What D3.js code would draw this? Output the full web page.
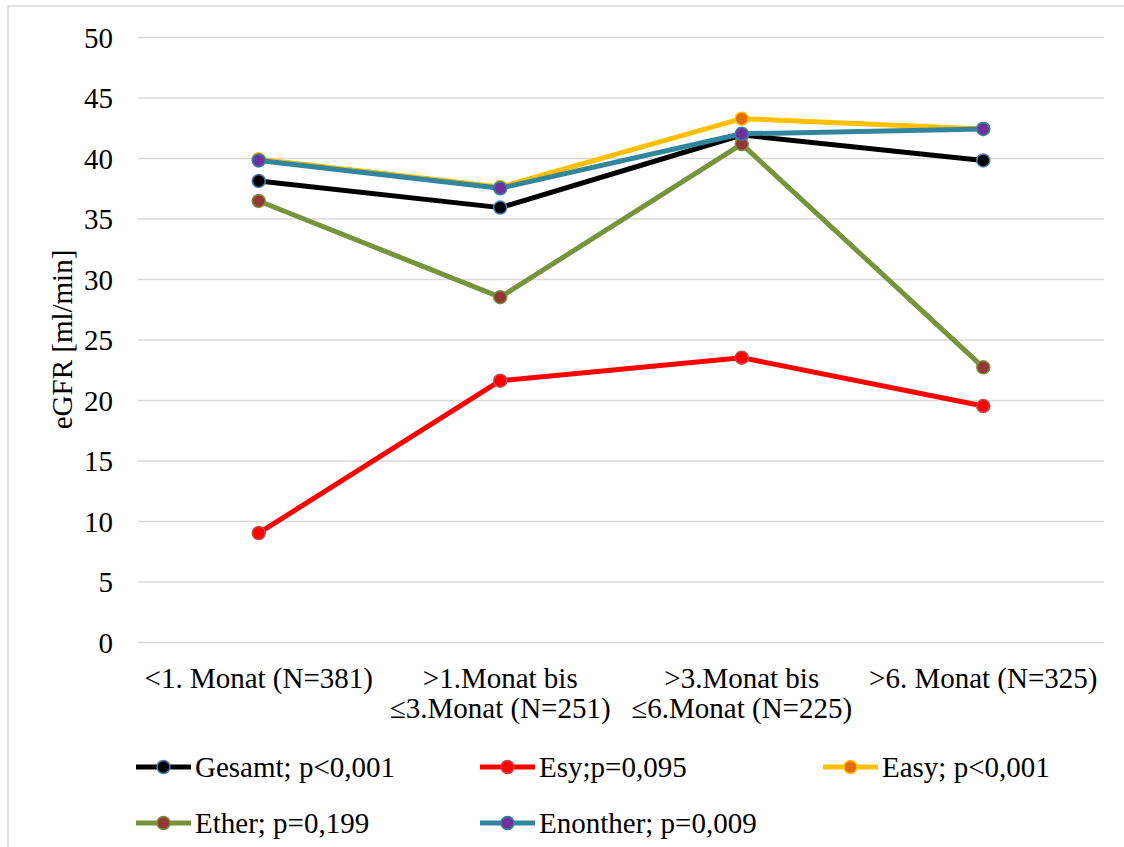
<!DOCTYPE html>
<html>
<head>
<meta charset="utf-8">
<script src="https://cdn.jsdelivr.net/npm/d3@7"></script>
<style>
  html, body { margin: 0; padding: 0; background: #fff; }
  svg text { font-family: "Liberation Serif", "Times New Roman", "DejaVu Serif", serif !important; }
</style>
</head>
<body>
<svg id="chart" width="1124" height="847"></svg>
<script>
// Categories (x axis), each split into its printed lines
const categories = [
  ["<1. Monat (N=381)"],
  [">1.Monat bis", "≤3.Monat (N=251)"],
  [">3.Monat bis", "≤6.Monat (N=225)"],
  [">6. Monat (N=325)"]
];

// eGFR means per group
const gesamt   = [38.1, 35.9, 41.9, 39.8];
const esy      = [9.0, 21.6, 23.5, 19.5];
const easy     = [39.9, 37.6, 43.25, 42.4];
const ether    = [36.45, 28.5, 41.15, 22.7];
const enonther = [39.8, 37.5, 42.0, 42.4];

const seriesNames = ["Gesamt; p<0,001", "Esy;p=0,095", "Easy; p<0,001", "Ether; p=0,199", "Enonther; p=0,009"];
const yTicks = [0, 5, 10, 15, 20, 25, 30, 35, 40, 45, 50];

const series = [
  { name: seriesNames[0], values: gesamt,   line: "#000000", fill: "#000000", ring: "#4A7EBB" },
  { name: seriesNames[1], values: esy,      line: "#FF0000", fill: "#FF0000", ring: "#C0504D" },
  { name: seriesNames[2], values: easy,     line: "#FFC000", fill: "#E36C09", ring: "#FFC000" },
  { name: seriesNames[3], values: ether,    line: "#77933C", fill: "#953735", ring: "#77933C" },
  { name: seriesNames[4], values: enonther, line: "#31859C", fill: "#7030A0", ring: "#31859C" }
];

const FONT = '"Liberation Serif", "Times New Roman", "DejaVu Serif", serif';
const svg = d3.select("#chart");
const plot = { left: 138, right: 1104, top: 37, bottom: 642 };
const fontSize = 29;

// Outer chart frame
svg.append("rect")
  .attr("x", 8).attr("y", 6)
  .attr("width", 1200).attr("height", 900)
  .attr("fill", "#fff").attr("stroke", "#D9D9D9").attr("stroke-width", 1.5);

const x = d3.scaleBand()
  .domain(d3.range(categories.length))
  .range([plot.left, plot.right])
  .padding(0);

const y = d3.scaleLinear().domain([0, 50]).range([plot.bottom, plot.top]);

// Horizontal gridlines
const grid = svg.append("g")
  .attr("transform", `translate(${plot.left},0)`)
  .call(d3.axisLeft(y).tickValues(yTicks).tickSize(-(plot.right - plot.left)).tickFormat(""));
grid.select(".domain").remove();
grid.selectAll(".tick line").attr("stroke", "#D9D9D9").attr("stroke-width", 1.5);

// Y axis labels
const yAxis = svg.append("g")
  .attr("transform", `translate(${plot.left},0)`)
  .call(d3.axisLeft(y).tickValues(yTicks).tickSize(0).tickPadding(25));
yAxis.attr("font-family", FONT);
yAxis.select(".domain").remove();
yAxis.selectAll("text")
  .style("font-family", FONT)
  .attr("font-size", fontSize)
  .attr("fill", "#000")
  .attr("dy", "0.35em");

// Y axis title
svg.append("text")
  .attr("transform", `translate(72,${(plot.top + plot.bottom) / 2}) rotate(-90)`)
  .attr("text-anchor", "middle")
  .style("font-family", FONT)
  .attr("font-size", fontSize)
  .attr("fill", "#000")
  .text("eGFR [ml/min]");

// X category labels
const xLabels = svg.append("g");
categories.forEach((lines, i) => {
  const t = xLabels.append("text")
    .attr("text-anchor", "middle")
    .style("font-family", FONT)
    .attr("font-size", fontSize)
    .attr("fill", "#000");
  lines.forEach((ln, j) => {
    t.append("tspan")
      .attr("x", x(i) + x.bandwidth() / 2)
      .attr("y", 688 + j * 30)
      .text(ln);
  });
});

// Lines and markers
const line = d3.line()
  .x((d, i) => x(i) + x.bandwidth() / 2)
  .y(d => y(d));

series.forEach(s => {
  const g = svg.append("g");
  g.append("path")
    .datum(s.values)
    .attr("d", line)
    .attr("fill", "none")
    .attr("stroke", s.line)
    .attr("stroke-width", 5)
    .attr("stroke-linejoin", "round");
  g.selectAll("circle")
    .data(s.values)
    .join("circle")
    .attr("cx", (d, i) => x(i) + x.bandwidth() / 2)
    .attr("cy", d => y(d))
    .attr("r", 6.5)
    .attr("fill", s.fill)
    .attr("stroke", s.ring)
    .attr("stroke-width", 1.5);
});

// Legend
const legendCols = [136, 480, 823];
const legendRows = [767, 823];
series.forEach((s, i) => {
  const lx = legendCols[i % 3];
  const ly = legendRows[Math.floor(i / 3)];
  const g = svg.append("g").attr("transform", `translate(${lx},${ly})`);
  g.append("line")
    .attr("x1", 0).attr("x2", 55)
    .attr("y1", 0).attr("y2", 0)
    .attr("stroke", s.line).attr("stroke-width", 5);
  g.append("circle")
    .attr("cx", 27.5).attr("cy", 0).attr("r", 6.5)
    .attr("fill", s.fill).attr("stroke", s.ring).attr("stroke-width", 1.5);
  g.append("text")
    .attr("x", 59).attr("y", 0).attr("dy", "0.35em")
    .style("font-family", FONT)
    .attr("font-size", fontSize)
    .attr("fill", "#000")
    .text(s.name);
});
</script>
</body>
</html>
